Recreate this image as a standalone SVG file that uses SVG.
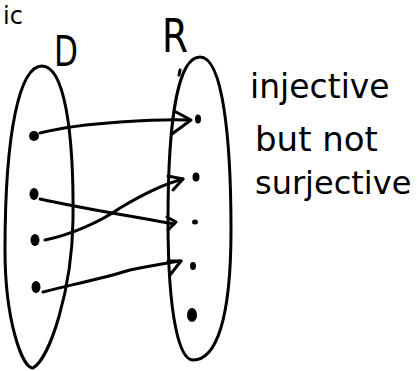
<svg xmlns="http://www.w3.org/2000/svg" width="417" height="371" viewBox="0 0 417 371">
<style>
.s{fill:none;stroke:#000;stroke-width:3;stroke-linecap:round;stroke-linejoin:round}
.d{fill:#000}
.t{font-family:"DejaVu Sans","Liberation Sans",sans-serif;fill:#000}
</style>
<rect width="417" height="371" fill="#fff"/>
<g id="top-fragment"><text class="t" x="3" y="24" font-size="24">ic</text></g>
<g id="D">
<path class="s" d="M42,66 C20,66 5,130 5,250 C5,320 22,368 33,368 C50,358 72,290 73,220 C74,130 64,66 42,66 Z"/>
<text class="t" x="54" y="66" font-size="42" textLength="24" lengthAdjust="spacingAndGlyphs">D</text>
<ellipse class="d" cx="34" cy="136" rx="5" ry="5"/>
<ellipse class="d" cx="34" cy="194" rx="4.5" ry="6"/>
<ellipse class="d" cx="35" cy="240" rx="4.5" ry="6"/>
<ellipse class="d" cx="36" cy="287" rx="4.5" ry="6"/>
</g>
<g id="R">
<path class="s" d="M200,57 C178,57 168,120 168,220 C168,320 180,360 193,360 C216,360 231,320 231,230 C231,140 223,57 200,57 Z"/>
<text class="t" x="162" y="52" font-size="46" textLength="26" lengthAdjust="spacingAndGlyphs">R</text>
<path class="s" d="M180,70 L179,75"/>
<ellipse class="d" cx="198" cy="119" rx="3" ry="4.5"/>
<ellipse class="d" cx="196" cy="177" rx="3.5" ry="4.5"/>
<ellipse class="d" cx="195" cy="222" rx="3" ry="2.5"/>
<ellipse class="d" cx="193" cy="266" rx="3" ry="4"/>
<ellipse class="d" cx="192" cy="315" rx="5" ry="7"/>
</g>
<g id="label">
<text class="t" x="250" y="98" font-size="33">injective</text>
<text class="t" x="255" y="151" font-size="34">but not</text>
<text class="t" x="255" y="194" font-size="32">surjective</text>
</g>
<g id="connectors">
<path class="s" d="M40,133 C60,128 90,124 120,122 C150,120 170,119 188,120"/>
<path class="s" d="M176,112 L191,120 L172,134"/>
<path class="s" d="M40,199 C80,208 130,216 174,224"/>
<path class="s" d="M167,217 L176,222 L168,230"/>
<path class="s" d="M45,240 C70,235 100,222 120,208 C140,196 160,185 183,179"/>
<path class="s" d="M168,176 L183,179 L173,190"/>
<path class="s" d="M43,292 C70,285 105,278 130,270 C150,266 165,263 181,261"/>
<path class="s" d="M168,261 L181,261 L170,275"/>
</g>
</svg>
